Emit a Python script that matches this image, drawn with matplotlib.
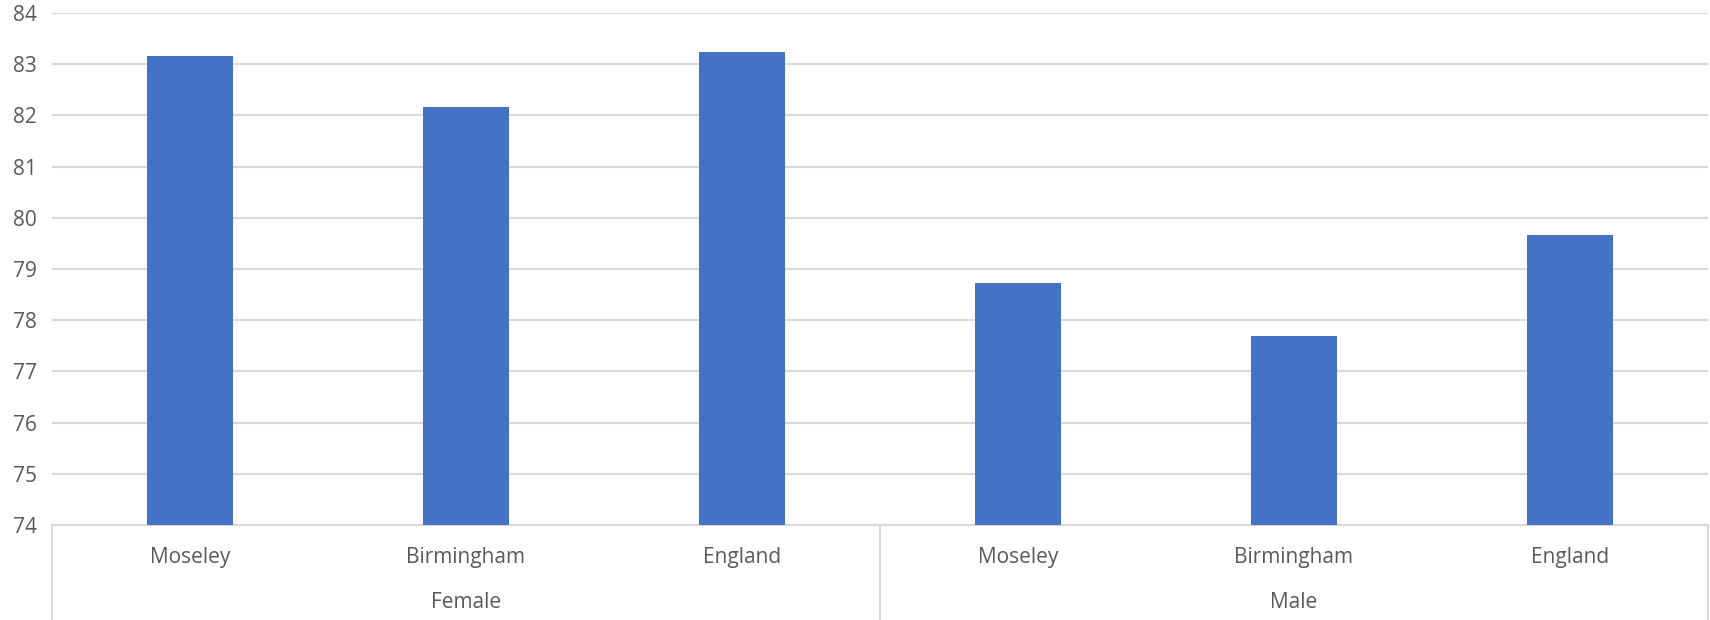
# Life expectancy at birth by sex: Moseley vs Birmingham vs England

import numpy as np
import matplotlib.pyplot as plt

plt.rcParams['font.family'] = ['Open Sans', 'DejaVu Sans']

places = ['Moseley', 'Birmingham', 'England']
groups = ['Female', 'Male']
female = [83.16, 82.16, 83.24]
male = [78.73, 77.69, 79.67]

values = female + male
labels = places * len(groups)
x = np.arange(len(values))

text_grey = '#595959'
grid_grey = '#d9d9d9'

fig = plt.figure(figsize=(17.1, 6.2), dpi=100)
ax = fig.add_axes([0.0304, 0.1532, 0.9684, 0.8258])

ax.bar(x, values, width=0.31, color='#4472C4', zorder=3)
ax.set_ylim(74, 84)
ax.set_xlim(-0.5, len(values) - 0.5)
ax.set_yticks(range(74, 85))

# Grid and spines
ax.grid(axis='y', color=grid_grey, linewidth=1.5, zorder=0)
for side in ['top', 'right', 'left']:
    ax.spines[side].set_visible(False)
ax.spines['bottom'].set_color(grid_grey)
ax.spines['bottom'].set_linewidth(1.5)
ax.tick_params(axis='y', length=0, labelsize=15, labelcolor=text_grey, pad=11)
ax.tick_params(axis='x', length=0, labelbottom=False)

# Two-level category axis
trans = ax.get_xaxis_transform()
for i, lab in enumerate(labels):
    ax.text(x[i], -0.0625, lab, transform=trans, ha='center', va='center',
            fontsize=15, color=text_grey)
n = len(places)
for g, name in enumerate(groups):
    mid = g * n + (n - 1) / 2
    ax.text(mid, -0.152, name, transform=trans, ha='center', va='center',
            fontsize=15, color=text_grey)
for b in np.arange(len(groups) + 1) * n - 0.5:
    ax.plot([b, b], [0, -0.2], transform=trans, color=grid_grey,
            linewidth=1.5, clip_on=False)

plt.savefig('out.png', dpi=100)
